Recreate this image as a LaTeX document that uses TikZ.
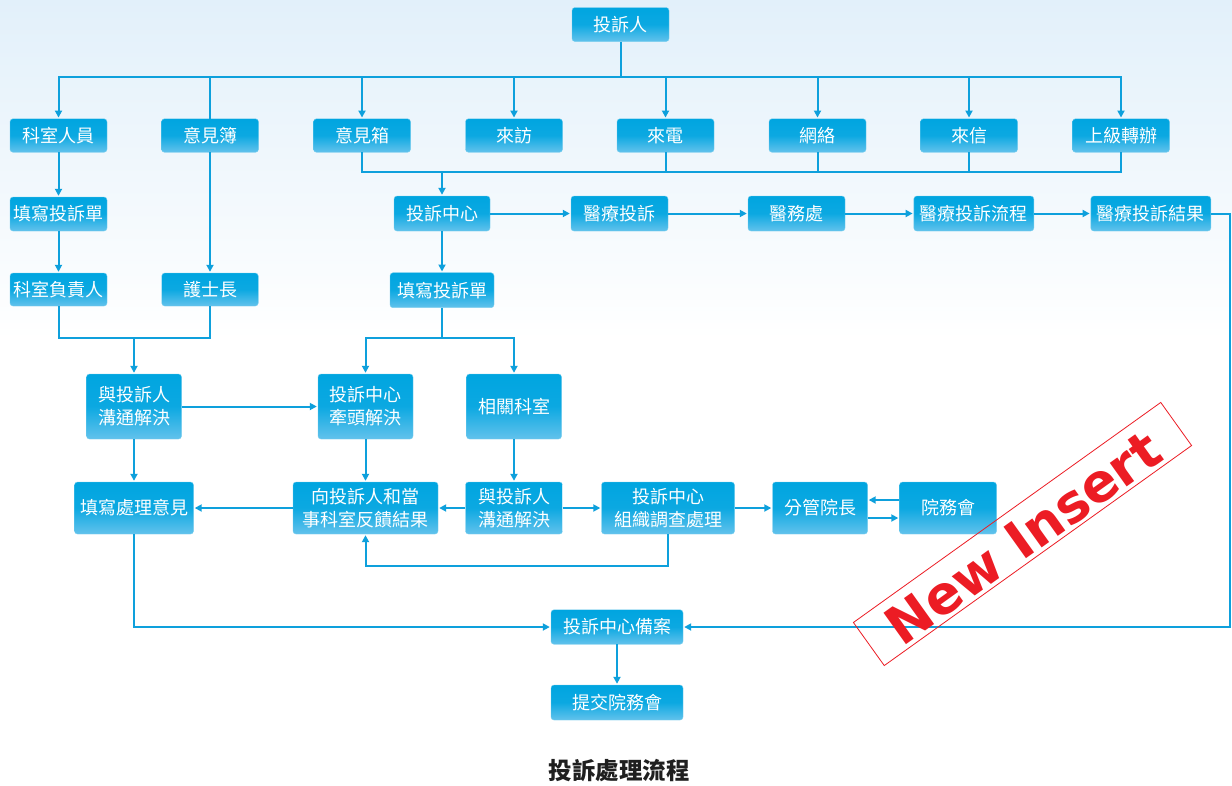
\documentclass[tikz,border=0pt]{standalone}
\usepackage{fontspec}
\newfontfamily\cjk{Noto Sans CJK TC}
\newfontfamily\stampfont{DejaVu Sans}
\usetikzlibrary{arrows.meta}
\definecolor{boxtop}{HTML}{00A5E0}
\definecolor{boxbot}{HTML}{62C2EC}
\definecolor{linec}{HTML}{0EA0DC}
\definecolor{bgtop}{HTML}{E2F0FA}
\definecolor{stampred}{HTML}{EC1C24}
\begin{document}
\begin{tikzpicture}[x=1pt,y=-1pt,
  box/.style={rounded corners=3pt, top color=boxtop, bottom color=boxbot, middle color=boxtop!88!boxbot,
    draw=boxtop!55!white, line width=0.4pt, text=white, font=\cjk\fontsize{18}{23}\selectfont,
    align=center, inner sep=0pt, minimum height=34pt},
  conn/.style={draw=linec, line width=2pt},
  arr/.style={conn, -{Triangle[length=7pt,width=7pt]}, shorten >=1pt},
  stamptext/.style={rotate=35.6, font=\stampfont\bfseries\fontsize{53}{53}\selectfont, inner sep=0pt},
]
\useasboundingbox (0,0) rectangle (1232,785);
\fill[white] (0,0) rectangle (1232,785);
\fill[top color=bgtop, bottom color=white] (0,0) rectangle (1232,340);

% row 1
\node[box, minimum width=97pt] (tsr) at (620.5,24.5) {投訴人};
% row 2
\node[box, minimum width=97pt, minimum height=33.5pt] (ks)  at (58.5,135.5) {科室人員};
\node[box, minimum width=97pt, minimum height=33.5pt] (yjb) at (210,135.5) {意見簿};
\node[box, minimum width=97pt, minimum height=33.5pt] (yjx) at (362,135.5) {意見箱};
\node[box, minimum width=97pt, minimum height=33.5pt] (lf)  at (514,135.5) {來訪};
\node[box, minimum width=97pt, minimum height=33.5pt] (ld)  at (665.5,135.5) {來電};
\node[box, minimum width=97pt, minimum height=33.5pt] (wl)  at (817.5,135.5) {網絡};
\node[box, minimum width=97pt, minimum height=33.5pt] (lx)  at (969,135.5) {來信};
\node[box, minimum width=97pt, minimum height=33.5pt] (sj)  at (1121,135.5) {上級轉辦};
% row 3
\node[box, minimum width=97pt] (tx1) at (58.5,214) {填寫投訴單};
\node[box, minimum width=96pt, minimum height=35pt] (zx) at (442,213.5) {投訴中心};
\node[box, minimum width=97pt, minimum height=35pt] (ylts) at (619.5,213.5) {醫療投訴};
\node[box, minimum width=97pt, minimum height=35pt] (ywc) at (796.5,213.5) {醫務處};
\node[box, minimum width=120pt, minimum height=35pt] (yllc) at (973.8,213.5) {醫療投訴流程};
\node[box, minimum width=120pt, minimum height=35pt] (yljg) at (1150.8,213.5) {醫療投訴結果};
% row 4
\node[box, minimum width=97pt, minimum height=33pt] (kfz) at (58.5,289.5) {科室負責人};
\node[box, minimum width=96.5pt, minimum height=33pt] (hsz) at (210,289.5) {護士長};
\node[box, minimum width=104pt, minimum height=35pt] (tx2) at (442,290.2) {填寫投訴單};
% row 5
\node[box, minimum width=95pt, minimum height=65pt] (gt1) at (134,406.5) {與投訴人\\溝通解決};
\node[box, minimum width=95pt, minimum height=65pt] (qt)  at (365.5,406.5) {投訴中心\\牽頭解決};
\node[box, minimum width=95pt, minimum height=65pt] (xg)  at (514,406.5) {相關科室};
% row 6
\node[box, minimum width=119pt, minimum height=52pt] (clyj) at (134,508) {填寫處理意見};
\node[box, minimum width=145pt, minimum height=52pt] (fk)   at (365.5,508) {向投訴人和當\\事科室反饋結果};
\node[box, minimum width=97pt, minimum height=52pt]  (gt2)  at (514,508) {與投訴人\\溝通解決};
\node[box, minimum width=133pt, minimum height=52pt] (zz)   at (668,508) {投訴中心\\組織調查處理};
\node[box, minimum width=95pt, minimum height=52pt]  (fgyz) at (820,508) {分管院長};
\node[box, minimum width=97pt, minimum height=52pt]  (ywh)  at (948,508) {院務會};
% row 7
\node[box, minimum width=132pt, minimum height=34.5pt] (ba) at (617,627) {投訴中心備案};
\node[box, minimum width=132pt, minimum height=35pt] (tj) at (617,702.5) {提交院務會};
% caption
\node[font=\cjk\bfseries\fontsize{23.5}{23.5}\selectfont, text=black!88] (cap) at (619,771) {投訴處理流程};

% level helpers
\coordinate (b1) at (620.5,77);
\coordinate (y172) at (0,172);
\coordinate (j1) at (134,338);
\coordinate (j2) at (442,338);
\coordinate (y566) at (0,566);
\coordinate (rr) at (1230,213.5);

% top bus
\draw[conn] (tsr.south) -- (b1);
\draw[arr] (b1) -| (ks.north);
\draw[arr] (b1) -| (sj.north);
\foreach \n in {yjx,lf,ld,wl,lx} \draw[arr] (b1 -| \n.north) -- (\n.north);
\draw[conn] (b1 -| yjb.north) -- (yjb.north);

% lower bus
\coordinate (b2) at (zx.north |- y172);
\draw[conn] (yjx.south) |- (b2);
\draw[conn] (sj.south) |- (b2);
\foreach \n in {ld,wl,lx} \draw[conn] (\n.south) -- (\n.south |- y172);
\draw[arr] (b2) -- (zx.north);

% left column
\draw[arr] (ks) -- (tx1);
\draw[arr] (tx1) -- (kfz);
\draw[arr] (yjb) -- (hsz);
\draw[conn] (kfz.south) |- (j1);
\draw[conn] (hsz.south) |- (j1);
\draw[arr] (j1) -- (gt1.north);

% centre
\draw[arr] (zx) -- (tx2);
\draw[arr] (zx) -- (ylts);
\draw[arr] (ylts) -- (ywc);
\draw[arr] (ywc) -- (yllc);
\draw[arr] (yllc) -- (yljg);
\draw[conn] (tx2.south) -- (j2);
\draw[arr] (j2) -| (qt.north);
\draw[arr] (j2) -| (xg.north);
\draw[arr] (gt1) -- (qt);
\draw[arr] (gt1) -- (clyj);
\draw[arr] (qt) -- (fk);
\draw[arr] (xg) -- (gt2);
\draw[arr] (fk) -- (clyj);
\draw[arr] (gt2) -- (fk);
\draw[arr] (gt2) -- (zz);
\draw[arr] (zz) -- (fgyz);
\draw[arr] ([yshift=8pt]ywh.west) -- ([yshift=8pt]fgyz.east);
\draw[arr] ([yshift=-10pt]fgyz.east) -- ([yshift=-10pt]ywh.west);
\draw[arr] (zz.south) |- (y566 -| fk.south) -- (fk.south);
\draw[arr] (clyj.south) |- (ba.west);
\draw[arr] (yljg.east) -- (rr) |- (ba.east);
\draw[arr] (ba) -- (tj);

% stamp
\node[draw=stampred, line width=0.8pt, rotate=35.6, minimum width=378pt, minimum height=53pt, inner sep=0pt] (stampbox) at (1022.5,534) {};
\node[stamptext, text=stampred] (stamp) at (1023,538) {New Insert};
\end{tikzpicture}
\end{document}
